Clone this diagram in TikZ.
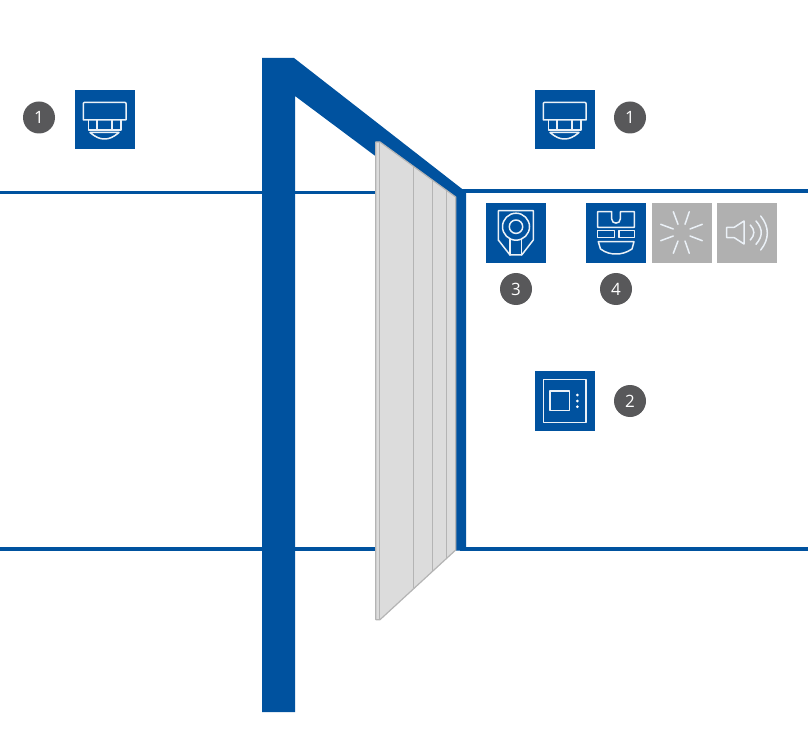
\documentclass[tikz,border=0pt]{standalone}
\usepackage{fontspec}
\setmainfont{Open Sans}
\definecolor{sblue}{HTML}{00529F}
\definecolor{sdark}{HTML}{58585A}
\definecolor{sgray}{HTML}{B0B0B0}
\definecolor{spanel}{HTML}{DCDCDC}
\definecolor{sedge}{HTML}{B4B4B4}
\tikzset{
  iconline/.style={draw=white!92!sblue,line width=1.5pt,line join=round,line cap=round},
  iconbox/.style={draw=none,anchor=north west,inner sep=0pt,outer sep=0pt,minimum width=60pt,minimum height=60pt},
  bluebox/.style={iconbox,fill=sblue},
  graybox/.style={iconbox,fill=sgray},
  badge/.style={circle,fill=sdark,text=white,minimum size=32pt,inner sep=0pt,font=\fontsize{17}{18}\selectfont},
  wall/.style={draw=sblue,line width=3.6pt},
  panelline/.style={draw=sedge,line width=1.2pt},
  detector/.pic={
    \draw[iconline] (8.3,30) -- (8.3,13.3) -- (9.1,12.5) -- (50.2,12.5) -- (51,13.3) -- (51,30) -- cycle;
    \draw[iconline] (13.3,30) -- (13.3,40) -- (46,40) -- (46,30) (22,30) -- (22,40) (37,30) -- (37,40);
    \draw[iconline] (15,42.5) -- (44,42.5) .. controls (38,47.5) and (34,49) .. (29.5,49) .. controls (25,49) and (21,47.5) .. (15,42.5) -- cycle;
  },
  wallsensor/.pic={
    \draw[iconline] (12.3,7.7) -- (47.3,7.7) -- (47.3,37) -- (35.7,52) -- (24,52) -- (12.3,37) -- cycle;
    \draw[iconline] (30,23.7) circle[radius=13.5] (30,23.7) circle[radius=6.7];
    \draw[iconline] (24,35.7) -- (24,52) (35.7,35.7) -- (35.7,52);
  },
  vest/.pic={
    \draw[iconline] (11.7,8.7) -- (25.7,8.7) -- (25.7,16) .. controls (25.7,21.5) and (34.3,21.5) .. (34.3,16) -- (34.3,8.7) -- (48.3,8.7) -- (48.3,24.3) -- (11.7,24.3) -- cycle;
    \draw[iconline] (11.7,27.7) rectangle (28.3,34.7) (33,27.7) rectangle (48.3,34.7);
    \draw[iconline] (12.3,38.7) -- (48,38.7) -- (46,46) .. controls (40,50) and (35,51) .. (30,51) .. controls (25,51) and (20,50) .. (14.5,46) -- cycle;
  },
  flash/.pic={
    \draw[iconline] (21.3,8.7) -- (26,21.3) (37.3,8.7) -- (33,21.3) (8.7,21.3) -- (21.3,26) (50.3,21.3) -- (38,26)
      (8.7,37.7) -- (21.3,33) (50.3,37.7) -- (38,33) (21.3,50.3) -- (26,38) (37.3,50.3) -- (33,38);
  },
  horn/.pic={
    \draw[iconline] (9.7,24.3) -- (17.3,24.3) -- (27,18) -- (27,41) -- (17.3,34.7) -- (9.7,34.7) -- cycle;
    \draw[iconline] (33.3,22) .. controls (38,27) and (38,32) .. (33.3,37);
    \draw[iconline] (39,18) .. controls (46,26) and (46,33) .. (39,41.3);
    \draw[iconline] (43.7,13) .. controls (52.5,24) and (52.5,36) .. (43.7,47);
  },
  panelicon/.pic={
    \draw[iconline] (8.3,8.3) rectangle (51,51.3);
    \draw[iconline] (15,20) rectangle (34.7,39.7);
    \fill[white] (42.3,24) circle[radius=1.5] (42.3,30) circle[radius=1.5] (42.3,35.7) circle[radius=1.5];
  }
}
\begin{document}
\begin{tikzpicture}[x=1pt,y=-1pt]
\useasboundingbox (0,0) rectangle (808,743);
% walls
\draw[wall] (0,192.4) -- (262,192.4) (295,192.4) -- (380,192.4);
\draw[wall] (460,191.2) -- (808,191.2);
\draw[wall] (0,548.8) -- (262,548.8) (295,548.8) -- (380,548.8);
\draw[wall] (460,548.8) -- (808,548.8);
% frame
\fill[sblue] (262,58) -- (294,58) -- (461.5,188.5) -- (466,192.5) -- (466,550.5) -- (455,550.5) -- (455,215.5) -- (295,96) -- (295,712) -- (262,712) -- cycle;
% panel
\path[fill=spanel,draw=sedge,line width=1.2pt,line join=round] (375.8,142) -- (380,142) -- (455.7,197) -- (455.7,550) -- (380,619.7) -- (375.8,619.7) -- cycle;
\draw[panelline] (379.6,142) -- (379.6,619.7);
\draw[panelline] (413.5,167) -- (413.5,588);
\draw[panelline] (432.4,181) -- (432.4,571);
\draw[panelline] (446.8,191) -- (446.8,558);
% icons
\node[bluebox,minimum height=59pt] (d1) at (75,90) {};
\pic at (d1.north west) {detector};
\node[bluebox,minimum height=59pt] (d2) at (535,90) {};
\pic at (d2.north west) {detector};
\node[bluebox] (s3) at (486,203) {};
\pic at (s3.north west) {wallsensor};
\node[bluebox] (v4) at (586,203) {};
\pic at (v4.north west) {vest};
\node[graybox] (fl) at (652,203) {};
\pic at (fl.north west) {flash};
\node[graybox] (hn) at (717,203) {};
\pic at (hn.north west) {horn};
\node[bluebox] (p2) at (535,371) {};
\pic at (p2.north west) {panelicon};
% badges
\node[badge] (b1a) at (39,117.5) {1};
\node[badge] (b1b) at (630,117.5) {1};
\node[badge] (b3) at (516,289) {3};
\node[badge] (b4) at (616,289) {4};
\node[badge] (b2) at (630,401) {2};
\end{tikzpicture}
\end{document}
